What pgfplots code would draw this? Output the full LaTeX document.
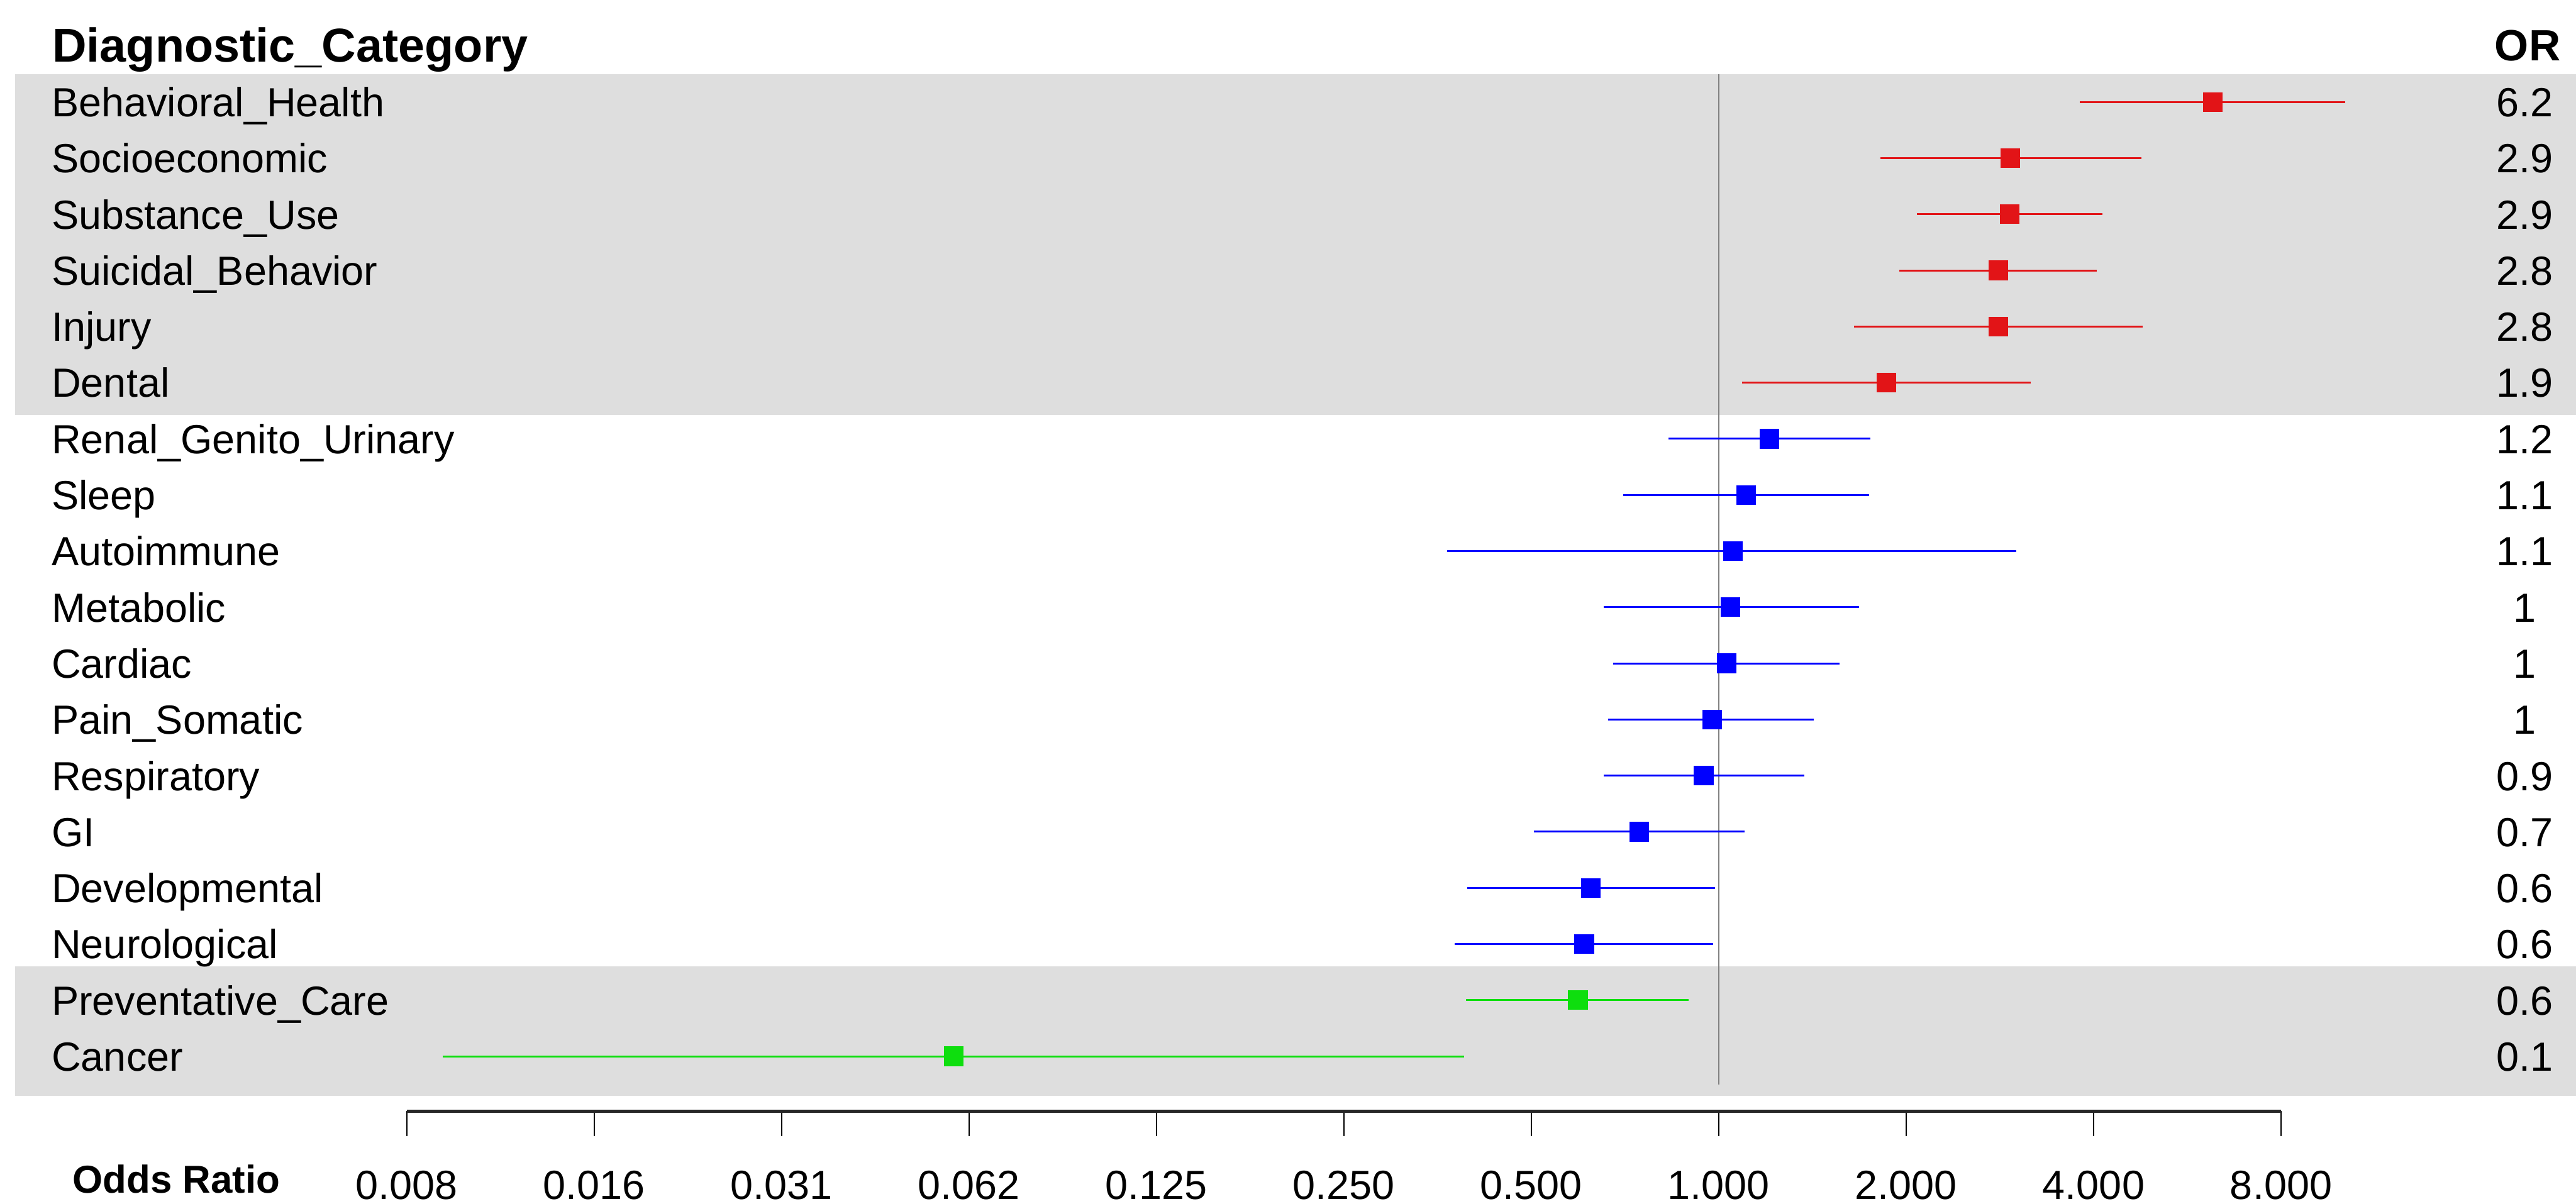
\documentclass[border=0pt]{standalone}
\usepackage{pgfplots}
\pgfplotsset{compat=1.18}
\usepackage{pgfplotstable}
\usepackage{fontspec}
\setmainfont{Liberation Sans}
\usetikzlibrary{calc}

\definecolor{fred}{RGB}{226,20,23}
\definecolor{fblue}{RGB}{0,0,255}
\definecolor{fgreen}{RGB}{14,222,14}
\definecolor{band}{RGB}{222,222,222}
\definecolor{refline}{RGB}{128,128,128}

% row, odds ratio, lower CI, upper CI
\pgfplotstableread{
row or lo hi
1 6.22 3.80 10.13
2 2.94 1.82 4.77
3 2.93 2.08 4.13
4 2.81 1.95 4.05
5 2.81 1.65 4.80
6 1.86 1.09 3.17
}\redtab
\pgfplotstableread{
row or lo hi
7 1.206 0.830 1.752
8 1.106 0.702 1.742
9 1.054 0.366 3.005
10 1.045 0.654 1.680
11 1.029 0.677 1.563
12 0.976 0.665 1.421
13 0.946 0.654 1.371
14 0.745 0.505 1.099
15 0.623 0.395 0.987
16 0.608 0.377 0.980
}\bluetab
\pgfplotstableread{
row or lo hi
17 0.594 0.393 0.895
18 0.0591 0.00892 0.390
}\greentab

\newcommand{\labfont}{\fontsize{9.68pt}{11pt}\selectfont}
\newcommand{\lab}[2]{\node[anchor=base west, inner sep=0pt, font=\labfont] at ({rel axis cs:0.01975,0} |- {axis cs:1,#1}) {#2};}
\newcommand{\orv}[2]{\node[anchor=base, inner sep=0pt, font=\labfont] at ({rel axis cs:0.9801,0} |- {axis cs:1,#1}) {#2};}

\pgfplotsset{
  forest/.style={
    only marks, mark=square*, mark size=0.75mm,
    mark options={draw=none, fill=#1},
    error bars/.cd, x dir=both, x explicit, error mark=none,
    error bar style={line width=0.16mm, #1},
  },
}

\begin{document}
\begin{tikzpicture}
\begin{axis}[
  name=main,
  set layers,
  scale only axis,
  width=215.15mm, height=100.55mm,
  xmode=log, log basis x=2,
  xmin=0.0017364, xmax=23.813,
  ymin=-0.8166, ymax=20.623,
  y dir=reverse,
  axis lines=none,
  xtick=\empty, ytick=\empty,
  clip=false,
]
\begin{pgfonlayer}{axis background}
\fill[band] ({rel axis cs:0.00593,0} |- {axis cs:1,0.502}) rectangle ({rel axis cs:1,0} |- {axis cs:1,6.571});
\fill[band] ({rel axis cs:0.00593,0} |- {axis cs:1,16.40}) rectangle ({rel axis cs:1,0} |- {axis cs:1,18.71});
\draw[refline, line width=0.15mm] (axis cs:1,0.5) -- (axis cs:1,18.5);
\end{pgfonlayer}

\addplot[color=fred, forest=fred] table[x=or, y=row,
  x error plus expr=\thisrow{hi}-\thisrow{or},
  x error minus expr=\thisrow{or}-\thisrow{lo}] {\redtab};
\addplot[color=fblue, forest=fblue] table[x=or, y=row,
  x error plus expr=\thisrow{hi}-\thisrow{or},
  x error minus expr=\thisrow{or}-\thisrow{lo}] {\bluetab};
\addplot[color=fgreen, forest=fgreen] table[x=or, y=row,
  x error plus expr=\thisrow{hi}-\thisrow{or},
  x error minus expr=\thisrow{or}-\thisrow{lo}] {\greentab};

\node[anchor=base west, inner sep=0pt, font=\fontsize{11.3pt}{13pt}\selectfont\bfseries] at ({rel axis cs:0.01999,0} |- {axis cs:1,0.285}) {Diagnostic\_Category};
\node[anchor=base, inner sep=0pt, font=\fontsize{10.4pt}{12pt}\selectfont\bfseries] at ({rel axis cs:0.9812,0} |- {axis cs:1,0.27}) {OR};
\node[anchor=base west, inner sep=0pt, font=\fontsize{9.24pt}{11pt}\selectfont\bfseries] at ({rel axis cs:0.02789,0} |- {axis cs:1,20.434}) {Odds Ratio};

\lab{1.262}{Behavioral\_Health}
\lab{2.262}{Socioeconomic}
\lab{3.262}{Substance\_Use}
\lab{4.262}{Suicidal\_Behavior}
\lab{5.262}{Injury}
\lab{6.262}{Dental}
\lab{7.262}{Renal\_Genito\_Urinary}
\lab{8.262}{Sleep}
\lab{9.262}{Autoimmune}
\lab{10.262}{Metabolic}
\lab{11.262}{Cardiac}
\lab{12.262}{Pain\_Somatic}
\lab{13.262}{Respiratory}
\lab{14.262}{GI}
\lab{15.262}{Developmental}
\lab{16.262}{Neurological}
\lab{17.262}{Preventative\_Care}
\lab{18.262}{Cancer}

\orv{1.262}{6.2}
\orv{2.262}{2.9}
\orv{3.262}{2.9}
\orv{4.262}{2.8}
\orv{5.262}{2.8}
\orv{6.262}{1.9}
\orv{7.262}{1.2}
\orv{8.262}{1.1}
\orv{9.262}{1.1}
\orv{10.262}{1}
\orv{11.262}{1}
\orv{12.262}{1}
\orv{13.262}{0.9}
\orv{14.262}{0.7}
\orv{15.262}{0.6}
\orv{16.262}{0.6}
\orv{17.262}{0.6}
\orv{18.262}{0.1}
\end{axis}

\begin{axis}[
  at={($(main.south west)+(33.965mm,7.715mm)$)}, anchor=south west,
  scale only axis,
  width=156.55mm, height=1mm,
  xmode=log, log basis x=2,
  xmin=0.0078125, xmax=8,
  ymin=0, ymax=1,
  axis x line*=bottom, axis y line=none,
  axis line style={line width=0.28mm, black!85},
  xtick={0.0078125,0.015625,0.03125,0.0625,0.125,0.25,0.5,1,2,4,8},
  xticklabels={0.008,0.016,0.031,0.062,0.125,0.250,0.500,1.000,2.000,4.000,8.000},
  minor xtick={},
  tick align=outside,
  major tick length=2.07mm,
  tick style={line width=0.1mm, black},
  xticklabel style={font=\labfont, anchor=north, inner sep=0pt, yshift=-2.85mm},
  ytick=\empty,
]
\addplot[draw=none, forget plot] coordinates {(1,0.5)};
\end{axis}
\pgfresetboundingbox
\path (main.south west) rectangle (main.north east);
\end{tikzpicture}
\end{document}
